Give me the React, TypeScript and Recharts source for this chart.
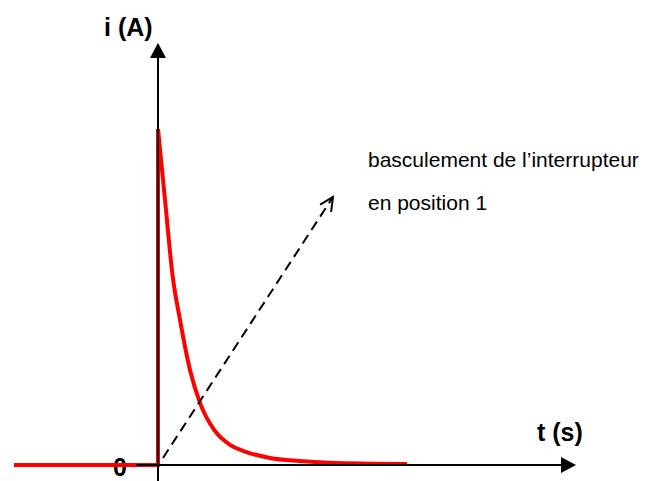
import { ComposedChart, Line, XAxis, YAxis, ReferenceLine } from "recharts";

// courant avant le basculement (i = 0 puis saut a t = 0)
const stepT = [-5.76, 0, 0];
const stepI = [0, 0, 10];

const curveT = [0, 0.28, 0.59, 0.88, 1.28, 1.68, 2.24, 2.88, 3.4, 4.48, 5.68, 6.88, 9.96];
const curveI = [10.0, 7.89, 5.6, 4.32, 2.83, 1.85, 1.05, 0.6, 0.42, 0.21, 0.12, 0.07, 0.03];

// fleche en pointilles "basculement de l'interrupteur"
const arrowT = [0.2, 7.0];
const arrowI = [0.21, 7.98];

const labelLines = ["basculement de l’interrupteur", "en position 1"];
const yTitle = "i (A)";
const xTitle = "t (s)";
const originLabel = "0";

const stepData = stepT.map((t, k) => ({ t, i: stepI[k] }));
const curveData = curveT.map((t, k) => ({ t, i: curveI[k] }));

const font = "'Liberation Sans', Arial, sans-serif";

function FilledArrow(props: any) {
    const { x1, y1, x2, y2 } = props;
    const a = Math.atan2(y2 - y1, x2 - x1);
    const len = 15;
    const w = 8;
    const bx = x2 - len * Math.cos(a);
    const by = y2 - len * Math.sin(a);
    const px = -Math.sin(a) * w;
    const py = Math.cos(a) * w;
    return (
        <g>
            <line x1={x1} y1={y1} x2={bx} y2={by} stroke="#000" strokeWidth={2} />
            <polygon
                points={`${x2},${y2} ${bx + px},${by + py} ${bx - px},${by - py}`}
                fill="#000"
            />
        </g>
    );
}

function DashedArrow(props: any) {
    const { x1, y1, x2, y2 } = props;
    const a = Math.atan2(y2 - y1, x2 - x1);
    const len = 15;
    const spread = 0.45;
    const l1x = x2 - len * Math.cos(a - spread);
    const l1y = y2 - len * Math.sin(a - spread);
    const l2x = x2 - len * Math.cos(a + spread);
    const l2y = y2 - len * Math.sin(a + spread);
    return (
        <g>
            <line
                x1={x1}
                y1={y1}
                x2={x2}
                y2={y2}
                stroke="#000"
                strokeWidth={2}
                strokeDasharray="10 6"
            />
            <polyline
                points={`${l1x},${l1y} ${x2},${y2} ${l2x},${l2y}`}
                fill="none"
                stroke="#000"
                strokeWidth={2}
            />
        </g>
    );
}

export default function App() {
    return (
        <div style={{ position: "absolute", left: 0, top: 0, width: 657, height: 481, background: "#fff" }}>
            <ComposedChart
                width={657}
                height={481}
                margin={{ top: 0, right: 0, bottom: 0, left: 0 }}
            >
                <XAxis type="number" dataKey="t" domain={[-6.32, 19.96]} hide allowDataOverflow />
                <YAxis type="number" dataKey="i" domain={[-0.476, 13.84]} hide allowDataOverflow />
                <Line
                    data={stepData}
                    dataKey="i"
                    type="linear"
                    stroke="#ff0000"
                    strokeWidth={4}
                    strokeLinecap="butt"
                    dot={false}
                    activeDot={false}
                    isAnimationActive={false}
                />
                <Line
                    data={curveData}
                    dataKey="i"
                    type="monotone"
                    stroke="#ff0000"
                    strokeWidth={4}
                    strokeLinecap="butt"
                    dot={false}
                    activeDot={false}
                    isAnimationActive={false}
                />
                <ReferenceLine
                    segment={[{ x: 0, y: -0.476 }, { x: 0, y: 12.56 }]}
                    shape={FilledArrow}
                    ifOverflow="visible"
                />
                <ReferenceLine
                    segment={[{ x: -0.88, y: 0 }, { x: 16.72, y: 0 }]}
                    shape={FilledArrow}
                    ifOverflow="visible"
                />
                <ReferenceLine
                    segment={[
                        { x: arrowT[0], y: arrowI[0] },
                        { x: arrowT[1], y: arrowI[1] },
                    ]}
                    shape={DashedArrow}
                    ifOverflow="visible"
                />
                <text x={104} y={36} fontFamily={font} fontWeight="bold" fontSize={25} fill="#000">
                    {yTitle}
                </text>
                <text x={537} y={441} fontFamily={font} fontWeight="bold" fontSize={25} fill="#000">
                    {xTitle}
                </text>
                <text x={113} y={476} fontFamily={font} fontWeight="bold" fontSize={25} fill="#000">
                    {originLabel}
                </text>
                {labelLines.map((s, k) => (
                    <text key={k} x={368} y={167 + k * 43} fontFamily={font} fontSize={21} fill="#000">
                        {s}
                    </text>
                ))}
            </ComposedChart>
        </div>
    );
}
